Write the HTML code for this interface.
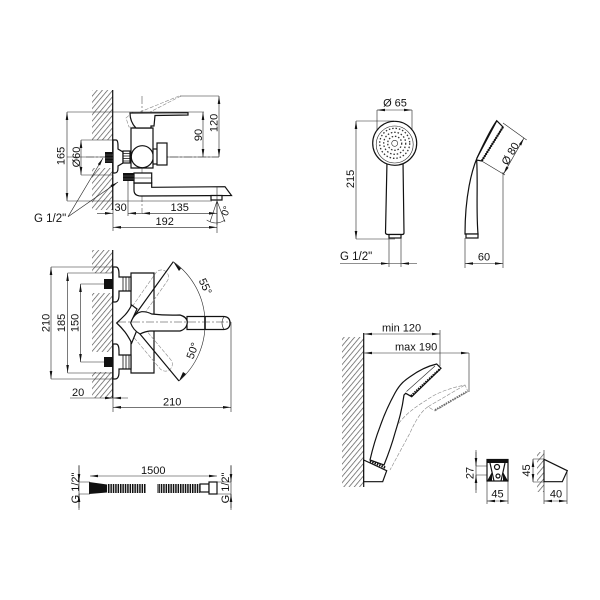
<!DOCTYPE html>
<html><head><meta charset="utf-8"><style>
html,body{margin:0;padding:0;background:#fff}
svg{display:block}
text{font-family:"Liberation Sans",sans-serif;font-size:11px;fill:#111}
.t{fill:none;stroke:#222;stroke-width:.6}
.d{fill:none;stroke:#222;stroke-width:.6;marker-start:url(#a);marker-end:url(#a)}
.e{fill:none;stroke:#222;stroke-width:.6;marker-end:url(#a)}
.o{fill:#fff;stroke:#111;stroke-width:1.2}
.n{fill:none;stroke:#111;stroke-width:1.2}
.g{fill:none;stroke:#888;stroke-width:.6;stroke-dasharray:4 1.5}
.c{fill:none;stroke:#333;stroke-width:.5;stroke-dasharray:8 2 2 2}
.h{fill:url(#hp)}
</style></head><body>
<svg width="600" height="600" viewBox="0 0 600 600" xmlns="http://www.w3.org/2000/svg">
<defs>
<marker id="a" viewBox="0 0 8 4" refX="8" refY="2" markerWidth="8" markerHeight="4" markerUnits="userSpaceOnUse" orient="auto-start-reverse"><path d="M8 2L0 0.7V3.3Z" fill="#111"/></marker>
<pattern id="hp" width="4" height="4" patternUnits="userSpaceOnUse" patternTransform="rotate(40)"><rect width="4" height="4" fill="#fff"/><rect x="0" width="0.7" height="4" fill="#555"/></pattern>
<pattern id="coil" width="2.4" height="10" patternUnits="userSpaceOnUse"><rect width="2.4" height="10" fill="#fff"/><rect width="1.5" height="10" fill="#111"/></pattern>
</defs>

<!-- top faucet -->
<rect class="h" x="92" y="90" width="20.5" height="50"/>
<rect class="h" x="92" y="168" width="20.5" height="42"/>
<path class="n" d="M112.7 90V210" stroke-width="1"/>
<path class="g" d="M179 96L140 112M181 96L150 112M133 112L126 118L129 127L135 127"/>
<path class="t" d="M180 96H219M67 112H204M67 201H212M81 140H112M81 175H112M67 157H219"/>
<path class="c" d="M142 96V213M86 157H219"/>
<path class="d" d="M67 112V201"/>
<path class="d" d="M81 140V175"/>
<path class="d" d="M203 112V157"/>
<path class="d" d="M219 96V157"/>
<!-- faucet top body -->
<path class="o" d="M113 140H116Q118 140 118 146V149L123 152V163L118 166V168Q118 173 115 173H113Z"/>
<rect class="o" x="123" y="151" width="7" height="12"/>
<path d="M123 153.5H130M123 156H130M123 158.5H130M123 161H130" stroke="#111" stroke-width=".8"/>
<rect x="105" y="152" width="8" height="11" fill="#111"/>
<path d="M105 155H113M105 158H113M105 161H113" stroke="#777" stroke-width=".5"/>
<path class="o" d="M131 128H153V168H131Z"/>
<circle class="o" cx="142.300" cy="156.700" r="11"/>
<rect class="o" x="153" y="149" width="5" height="15"/>
<rect class="o" x="157" y="143" width="10" height="22"/>
<path class="o" d="M130 113L188 112.700L188 115L155 115.500L154 126H151V128H136Q130 122 130 113Z"/>
<path class="o" d="M134 183V190Q134 196 141 196L231.500 195.500L225 186.700L151.700 187.300V183Z"/>
<path class="o" d="M134 173H151.700V183H134Z"/>
<path d="M134 178H151.700" stroke="#111" stroke-width=".6"/>
<rect x="123" y="173" width="11" height="8" fill="#111"/>
<path d="M123 176H134M123 179H134" stroke="#777" stroke-width=".5"/>
<path class="o" d="M211 195.500H222V200H211Z" stroke-width="1"/>
<path class="t" d="M217 187V233"/>
<path class="t" d="M128 181V216"/>
<path class="t" d="M217 201L210 222M217 201L225 222M217 201V225"/>
<path class="t" d="M206.700 220Q216 226 225 220"/>
<path class="t" d="M113 175V231"/>
<path class="e" d="M97 213.300H113"/>
<path class="e" d="M143 213.300H128"/>
<path class="d" d="M142 213.300H217"/>
<path class="d" d="M113 227.300H217"/>
<path class="e" d="M68 216.700L103 158"/>
<path class="e" d="M68 216.700L118 182"/>
<text x="114.500" y="211">30</text>
<text x="170.500" y="211">135</text>
<text x="155.500" y="225">192</text>
<text transform="translate(64.500,156) rotate(-90)" text-anchor="middle">165</text>
<text transform="translate(80,157) rotate(-90)" text-anchor="middle">Ø60</text>
<text transform="translate(202,135) rotate(-90)" text-anchor="middle">90</text>
<text transform="translate(217.500,123) rotate(-90)" text-anchor="middle">120</text>
<text transform="translate(229,212) rotate(-70)" text-anchor="middle" style="font-size:10px">0°</text>
<text x="34" y="222" style="font-size:11.5px">G 1/2"</text>

<!-- second faucet -->
<rect class="h" x="92" y="250" width="20.5" height="23"/>
<rect class="h" x="92" y="293" width="20.5" height="59"/>
<rect class="h" x="92" y="372" width="20.5" height="26"/>
<path class="n" d="M112.7 250V398" stroke-width="1"/>
<path class="t" d="M51 267H113M67.6 273H113M80.5 284H104M80.5 362H104M67.6 373H113M51 379H113"/>
<path class="d" d="M51 267V379"/>
<path class="d" d="M67.6 273V373"/>
<path class="d" d="M80.5 284V362"/>
<path class="o" d="M131 273H154V373H131Z"/>
<path class="o" d="M113 267H116Q119 267 119 274V277H131V291H119V295Q119 302 115 302H113Z"/>
<path class="o" d="M113 344H116Q119 344 119 351V355H131V369H119V372Q119 379 115 379H113Z"/>
<path d="M123 277V291M126 277V291M129 277V291M123 355V369M126 355V369M129 355V369" stroke="#111" stroke-width=".8"/>
<rect x="104" y="279" width="9" height="10" fill="#111"/>
<rect x="104" y="357" width="9" height="10" fill="#111"/>
<rect class="g" x="126" y="315" width="66" height="14" rx="7" transform="rotate(-55 130 322)"/>
<rect class="g" x="126" y="315" width="66" height="14" rx="7" transform="rotate(50 130 322)"/>
<path class="n" d="M130 322L173.300 261.700M130 322L179 381" stroke-width="1"/>
<path class="o" d="M187 316.500H224Q230 317 230 323Q230 329 224 329.500H187Z" stroke-width="1"/>
<path class="t" d="M224 316.500Q220 323 224 329.500" stroke-width=".8"/>
<path class="t" d="M173.300 261.700A75 75 0 0 1 205 322A75 75 0 0 1 179 381" stroke-width=".8"/>
<path d="M205 322V316M205 322V329" stroke="#111" stroke-width="1.600"/>
<path d="M173.300 261.700L181 268.500L179 271Z M179 381L183 372L186 374Z" fill="#111"/>
<path class="o" d="M131.700 305Q128 312 125 315Q121 319 116.700 323Q121 327 125 332Q128 336 131.700 343L137 330L131 322L137 309Z"/>
<path class="o" d="M130.700 323Q134 313 141.700 311.700Q147 311.500 151.700 314Q165 315.500 180 315Q187 317 187.300 322Q187 329 180 331L150 331Q145 331.500 140 334Q133 330 130.700 323Z"/>
<path class="c" d="M118 322H231"/>
<path class="t" d="M231 322V412M113 379V412"/>
<path class="t" d="M70 398H128"/>
<path d="M113 398L105 396.700V399.300Z M113 398L121 396.700V399.300Z" fill="#111"/>
<path class="d" d="M113 407.300H231"/>
<text x="72" y="396">20</text>
<text x="163" y="405.500">210</text>
<text transform="translate(49.500,323) rotate(-90)" text-anchor="middle">210</text>
<text transform="translate(65,323) rotate(-90)" text-anchor="middle">185</text>
<text transform="translate(78.500,323) rotate(-90)" text-anchor="middle">150</text>
<text transform="translate(202,288) rotate(65)" text-anchor="middle">55°</text>
<text transform="translate(196,352) rotate(-70)" text-anchor="middle">50°</text>

<!-- hose -->
<path class="t" d="M79 465V510M231 465V510M79 482H90M79 494H90M217 482H231M217 494H231"/>
<path class="d" d="M90 476H217"/>
<path class="e" d="M79 466V482"/>
<path class="e" d="M79 508V494"/>
<path class="e" d="M231 466V482"/>
<path class="e" d="M231 508V494"/>
<path d="M89 482L107 484.500V492.500L89 494Z" fill="#111"/>
<rect x="107" y="484" width="39" height="9" fill="url(#coil)"/>
<rect x="157" y="484" width="43" height="9" fill="url(#coil)"/>
<rect class="o" x="200" y="484" width="9" height="8" stroke-width="1"/>
<rect class="o" x="209" y="482" width="8" height="12" stroke-width="1"/>
<text x="141" y="474">1500</text>
<text transform="translate(75,488) rotate(-90)" text-anchor="middle" dy="4">G 1/2"</text>
<text transform="translate(225,488) rotate(-90)" text-anchor="middle" dy="4">G 1/2"</text>

<!-- shower front -->
<path class="t" d="M377 110V143M412 110V143"/>
<path class="d" d="M377 110H412"/>
<path class="t" d="M356 121H394M356 239H395"/>
<path class="d" d="M356 121V239"/>
<path class="o" d="M387 161L385.500 233Q386 234.500 388 234.500H402Q404 234.500 404 233L403 161Z"/>
<rect class="o" x="389" y="234.500" width="12" height="3.500" stroke-width="1"/>
<circle class="o" cx="394.700" cy="143.300" r="22" stroke-width="1.500"/>
<circle class="t" cx="394.700" cy="144.500" r="18.500" stroke-width=".8"/>
<circle class="t" cx="394.700" cy="143.300" r="3" stroke-width=".8"/>
<circle cx="394.700" cy="143.300" r="7" fill="none" stroke="#333" stroke-width="1.300" stroke-dasharray="1.500 1.800"/>
<circle cx="394.700" cy="143.300" r="11" fill="none" stroke="#333" stroke-width="1.300" stroke-dasharray="1.500 1.900"/>
<circle cx="394.700" cy="143.300" r="15" fill="none" stroke="#333" stroke-width="1.300" stroke-dasharray="1.500 1.900"/>
<path class="t" d="M389 238V267M401 238V267M340 263.500H417"/>
<path d="M389 263.500L381 262.200V264.800Z M401 263.500L409 262.200V264.800Z" fill="#111"/>
<text x="395" y="106.700" text-anchor="middle">Ø 65</text>
<text x="340" y="260" style="font-size:11.5px">G 1/2"</text>
<text transform="translate(354,179) rotate(-90)" text-anchor="middle">215</text>

<!-- shower side -->
<path class="o" d="M465 234C465 195 472 170 477 158C483 145 490 130 496.700 120.700L503 127L481.700 161L476.700 160C478 185 476 210 478 234Z"/>
<path class="n" d="M496.700 121L477 158" stroke-width=".7"/>
<path d="M503 127L481.700 161" stroke="#111" stroke-width="2.200" stroke-dasharray="1.400 1"/>
<rect class="o" x="466" y="234" width="12" height="4" stroke-width="1"/>
<path class="t" d="M503 123L526.700 140M481.700 161L505 175"/>
<path class="d" d="M524 138L503.500 174"/>
<path class="t" d="M465 238V268M503 172V268"/>
<path class="d" d="M465 263.500H503"/>
<text transform="translate(510,153.500) rotate(-60)" text-anchor="middle" dy="4">Ø 80</text>
<text x="484" y="260.300" text-anchor="middle">60</text>

<!-- shower wall -->
<rect class="h" x="342" y="337" width="21.5" height="150"/>
<path class="n" d="M363.7 333V487" stroke-width="1"/>
<path class="t" d="M440 330V366M469 353V392"/>
<path class="d" d="M364 334H440"/>
<path class="d" d="M364 353H469"/>
<text x="382" y="331.700">min 120</text>
<text x="395" y="350.700">max 190</text>
<path class="g" d="M377 461.700C385 445 392 433 400 421.700C408 412 417 406 426.700 400C436 393 450 388 465 385L468 391.700L435 411L428 406.700C420 412 414 424 410 433L390 470M428 406.700L465 385"/>
<path d="M435 410L467 391.500" stroke="#666" stroke-width="1.800" stroke-dasharray="1.500 1"/>
<path class="o" d="M370 460C373 447 376 437 380 426.700C384 415 389 404 395 393C400 384 405 380 410 376.700C418 371 428 366 436.700 364L441 368.300L411.700 396.700L405.700 393.300L404 395C402 410 399 420 395 433C392 444 388 455 384 465Z"/>
<path class="t" d="M406.500 391.500L435 366" stroke-width=".7"/>
<path d="M411 396L440 369" stroke="#111" stroke-width="2.200" stroke-dasharray="1.500 1"/>
<path class="o" d="M363.700 460L386.700 470.700L382.700 481.700H363.700Z"/>
<path d="M370 461L386 468" stroke="#111" stroke-width="2.500" stroke-dasharray="1.500 1"/>

<!-- bracket -->
<path class="t" d="M476 450V493M476 466H490M476 475H490M487 481V504M508 481V504"/>
<path class="e" d="M476 452V466"/>
<path class="e" d="M476 490V475"/>
<path class="d" d="M487 501H508"/>
<rect class="o" x="487" y="459.500" width="21" height="21.500" stroke-width="1.200"/>
<path d="M487 459.500H508V463H487Z" fill="#111"/>
<path class="n" d="M490 463L494 481M505 463L501 481" stroke-width="1.200"/>
<path d="M487 481H492V472ZM508 481H503V472Z" fill="#111"/>
<circle class="n" cx="497" cy="467" r="2.500" stroke-width=".8"/>
<circle class="n" cx="498" cy="476" r="2" stroke-width=".8"/>
<text transform="translate(473.500,473) rotate(-90)" text-anchor="middle">27</text>
<text x="497.500" y="497.300" text-anchor="middle">45</text>
<rect class="h" x="537" y="452" width="7" height="40"/>
<path class="t" d="M544 450V492M533 459H544M533 482H544M544 482V504M567 471V504"/>
<path class="d" d="M533 459V482"/>
<path class="d" d="M544 501H567"/>
<path class="o" d="M544 459.300L567.300 470.700L562.300 481.700H544Z"/>
<text transform="translate(530,470.500) rotate(-90)" text-anchor="middle">45</text>
<text x="556" y="497.300" text-anchor="middle">40</text>
</svg>
</body></html>
